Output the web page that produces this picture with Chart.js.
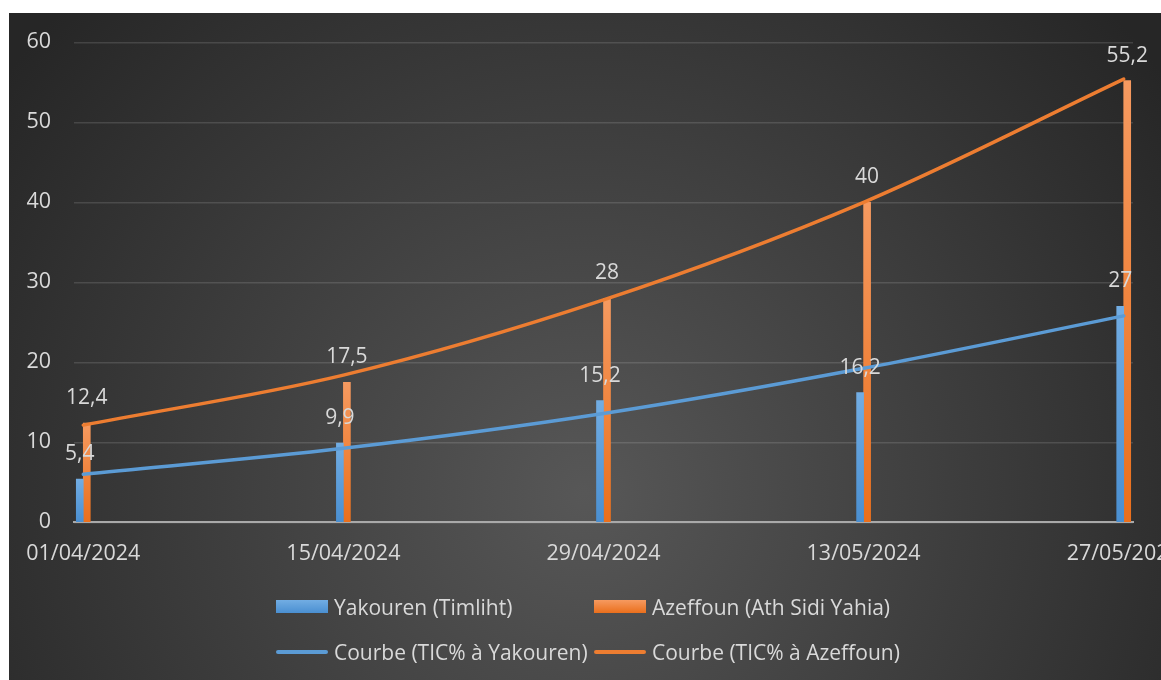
<!DOCTYPE html>
<html>
<head>
<meta charset="utf-8">
<script src="https://cdn.jsdelivr.net/npm/chart.js@4.4.1/dist/chart.umd.min.js"></script>
<style>
html,body{margin:0;padding:0;background:#fff;width:1161px;height:680px;overflow:hidden;font-family:"Open Sans",sans-serif;}
#wrap{position:absolute;left:9px;top:13px;width:1152px;height:667px;}
#legend{position:absolute;left:276px;top:584px;display:grid;grid-template-columns:318px 318px;grid-auto-rows:45px;color:#d9d9d9;font-size:21px;}
.item{display:flex;align-items:center;white-space:nowrap;}
.sw{width:52px;margin-right:6px;flex:none;}
</style>
</head>
<body>
<div id="wrap"><canvas id="c" width="1152" height="667"></canvas></div>
<div id="legend"></div>
<script>
const dates = ['01/04/2024', '15/04/2024', '29/04/2024', '13/05/2024', '27/05/2024'];
const yakouren = [5.4, 9.9, 15.2, 16.2, 27];
const azeffoun = [12.4, 17.5, 28, 40, 55.2];
const courbeYakouren = [6.0, 9.25, 13.6, 19.25, 25.8];
const courbeAzeffoun = [12.15, 18.4, 27.8, 40.0, 55.4];
const yTicks = [0, 10, 20, 30, 40, 50, 60];
const seriesNames = ['Yakouren (Timliht)', 'Azeffoun (Ath Sidi Yahia)', 'Courbe (TIC% à Yakouren)', 'Courbe (TIC% à Azeffoun)'];

function toDay(s) {
  const [d, m, y] = s.split('/').map(Number);
  return Date.UTC(y, m - 1, d) / 86400000;
}
const day0 = toDay(dates[0]);
const days = dates.map(s => toDay(s) - day0);
const pts = arr => arr.map((v, i) => ({ x: days[i], y: v }));

const BLUE = '#5b9bd5', ORANGE = '#ed7d31';
const blueGrad = ['#72ade3', '#4a8fd1'];
const orangeGrad = ['#f69a60', '#ea6f1c'];

function barFill(colors) {
  return (ctx) => {
    const c = ctx.chart;
    if (!c.chartArea || !ctx.raw) return colors[1];
    const ys = c.scales.y;
    const top = ys.getPixelForValue(ctx.raw.y);
    const bot = ys.getPixelForValue(0);
    const g = c.ctx.createLinearGradient(0, top, 0, bot);
    g.addColorStop(0, colors[0]);
    g.addColorStop(1, colors[1]);
    return g;
  };
}

const bgPlugin = {
  id: 'bg',
  beforeDraw(chart) {
    const { ctx, width, height } = chart;
    ctx.save();
    const cx = width * 0.5, cy = height * 0.72;
    const g = ctx.createRadialGradient(cx, cy, 0, cx, cy, width * 0.62);
    g.addColorStop(0, '#575757');
    g.addColorStop(1, '#262626');
    ctx.fillStyle = g;
    ctx.fillRect(0, 0, width, height);
    ctx.restore();
  }
};

const labelPlugin = {
  id: 'vlabels',
  afterDatasetsDraw(chart) {
    const ctx = chart.ctx;
    ctx.save();
    ctx.font = '21px "Open Sans"';
    ctx.fillStyle = '#d9d9d9';
    ctx.textAlign = 'center';
    ctx.textBaseline = 'middle';
    chart.data.datasets.forEach((ds, di) => {
      if (ds.type !== 'bar') return;
      const meta = chart.getDatasetMeta(di);
      meta.data.forEach((el, i) => {
        const v = ds.data[i].y;
        ctx.fillText(String(v).replace('.', ','), el.x, el.y - 25);
      });
    });
    ctx.restore();
  }
};

const chart = new Chart(document.getElementById('c'), {
  data: {
    datasets: [
      { type: 'bar', label: seriesNames[0], data: pts(yakouren), backgroundColor: barFill(blueGrad), barThickness: 7, order: 2 },
      { type: 'bar', label: seriesNames[1], data: pts(azeffoun), backgroundColor: barFill(orangeGrad), barThickness: 7, order: 2 },
      { type: 'line', label: seriesNames[2], data: pts(courbeYakouren), borderColor: BLUE, borderWidth: 3.5, pointRadius: 0, cubicInterpolationMode: 'monotone', borderCapStyle: 'round', order: 1 },
      { type: 'line', label: seriesNames[3], data: pts(courbeAzeffoun), borderColor: ORANGE, borderWidth: 3.5, pointRadius: 0, cubicInterpolationMode: 'monotone', borderCapStyle: 'round', order: 1 }
    ]
  },
  options: {
    responsive: false,
    animation: false,
    devicePixelRatio: 1,
    layout: { padding: { left: 0, top: 29.3, right: 28, bottom: 112.7 } },
    plugins: { legend: { display: false }, tooltip: { enabled: false } },
    scales: {
      x: {
        type: 'linear',
        offset: false,
        min: days[0] - 0.5,
        max: days[days.length - 1] + 0.5,
        afterBuildTicks: s => { s.ticks = days.map(v => ({ value: v })); },
        afterFit: s => { s.paddingLeft = 0; s.paddingRight = 0; s.height = 45; },
        ticks: {
          autoSkip: false, maxRotation: 0, padding: 19,
          color: '#d9d9d9', font: { family: 'Open Sans', size: 21.5 },
          callback: v => dates[days.indexOf(v)]
        },
        grid: { display: false, drawTicks: false, offset: false },
        border: { display: true, color: '#a9a9a9', width: 2 }
      },
      y: {
        min: 0, max: 60,
        afterBuildTicks: s => { s.ticks = yTicks.map(v => ({ value: v })); },
        afterFit: s => { s.width = 65; s.paddingTop = 0; s.paddingBottom = 0; },
        ticks: { padding: 23, color: '#d9d9d9', font: { family: 'Open Sans', size: 21.5 } },
        grid: { color: 'rgba(255,255,255,0.13)', lineWidth: 1.5, drawTicks: false },
        border: { display: false }
      }
    }
  },
  plugins: [bgPlugin, labelPlugin]
});

// HTML legend built from the chart's datasets
const leg = document.getElementById('legend');
chart.data.datasets.forEach((ds, i) => {
  const it = document.createElement('div');
  it.className = 'item';
  const sw = document.createElement('span');
  sw.className = 'sw';
  if (ds.type === 'bar') {
    const g = i === 0 ? blueGrad : orangeGrad;
    sw.style.height = '13px';
    sw.style.background = 'linear-gradient(' + g[0] + ',' + g[1] + ')';
  } else {
    sw.style.height = '4px';
    sw.style.borderRadius = '2px';
    sw.style.background = ds.borderColor;
  }
  const tx = document.createElement('span');
  tx.textContent = ds.label;
  it.appendChild(sw);
  it.appendChild(tx);
  leg.appendChild(it);
});
</script>
</body>
</html>
